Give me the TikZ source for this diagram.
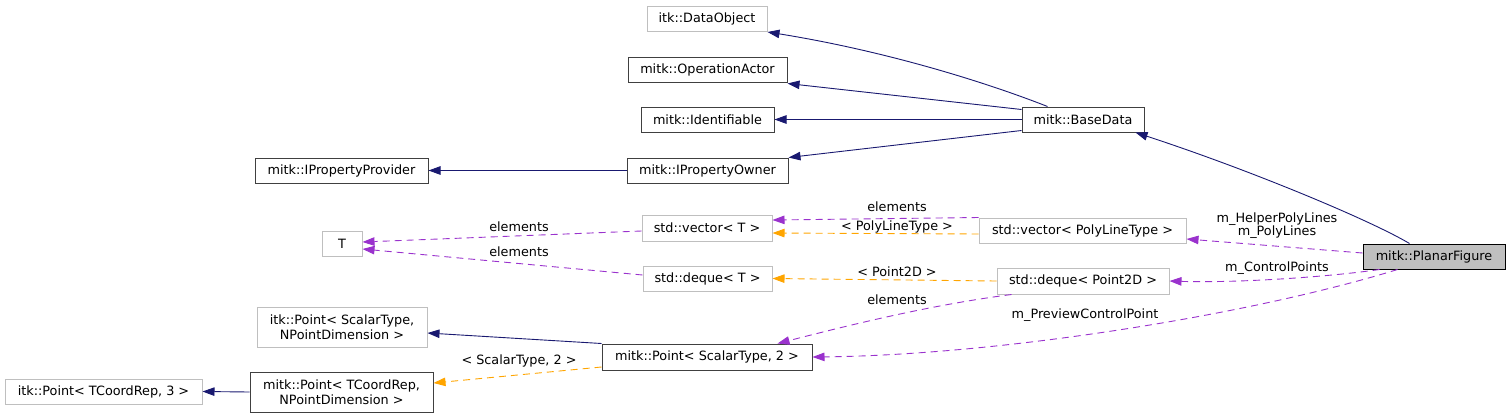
\documentclass[tikz,border=0pt]{standalone}
\usepackage{fontspec}
\setmainfont{DejaVu Sans}
\usetikzlibrary{arrows.meta}
\definecolor{inhblue}{HTML}{191970}
\definecolor{usepurple}{HTML}{9A32CD}
\definecolor{tmplorange}{HTML}{FFA500}
\definecolor{lgray}{HTML}{BFBFBF}
\definecolor{dgray}{HTML}{404040}
\tikzset{
  x=1pt, y=-1pt,
  box/.style={rectangle, inner sep=0pt, line width=1pt, align=center,
    font=\fontsize{12.8}{15}\selectfont, text=black},
  graybox/.style={box, draw=lgray},
  blackbox/.style={box, draw=dgray},
  curbox/.style={box, draw=black, fill=lgray},
  tip/.style={-{Triangle[length=12pt,width=8.5pt]}},
  inh/.style={tip, draw=inhblue, line width=0.9pt},
  usee/.style={tip, draw=usepurple, line width=0.9pt, dash pattern=on 7pt off 5pt},
  tmpl/.style={tip, draw=tmplorange, line width=0.9pt, dash pattern=on 7pt off 5pt},
  lbl/.style={inner sep=0pt, align=center, font=\fontsize{12.8}{13.5}\selectfont, text=black},
}
\begin{document}
\begin{tikzpicture}
\useasboundingbox (0,0) rectangle (1511,418);
% nodes
\node[graybox, minimum width=120pt, minimum height=25pt] (dobj) at (707,19) {itk::DataObject};
\node[blackbox, minimum width=159pt, minimum height=25pt] (opact) at (707.5,69.5) {mitk::OperationActor};
\node[blackbox, minimum width=133pt, minimum height=25pt] (ident) at (707.5,119.5) {mitk::Identifiable};
\node[blackbox, minimum width=161pt, minimum height=25pt] (iprowner) at (707.5,170.5) {mitk::IPropertyOwner};
\node[blackbox, minimum width=173pt, minimum height=25pt] (iprprov) at (341.5,170.5) {mitk::IPropertyProvider};
\node[blackbox, minimum width=122pt, minimum height=25pt] (bd) at (1083,119.5) {mitk::BaseData};
\node[curbox, minimum width=142pt, minimum height=25pt] (pf) at (1434,256.5) {mitk::PlanarFigure};
\node[graybox, minimum width=207pt, minimum height=25pt] (vecPL) at (1082.5,230.5) {std::vector< PolyLineType >};
\node[graybox, minimum width=130pt, minimum height=26pt] (vecT) at (707,228) {std::vector< T >};
\node[graybox, minimum width=40pt, minimum height=25pt] (T) at (342,243.5) {T};
\node[graybox, minimum width=129pt, minimum height=25pt] (deqT) at (707.5,278.5) {std::deque< T >};
\node[graybox, minimum width=172pt, minimum height=26pt] (deqP) at (1083,281) {std::deque< Point2D >};
\node[graybox, minimum width=170pt, minimum height=40pt] (itkPSN) at (342,327) {itk::Point< ScalarType,\\NPointDimension >};
\node[blackbox, minimum width=210pt, minimum height=26pt] (mpS2) at (707,357) {mitk::Point< ScalarType, 2 >};
\node[blackbox, minimum width=183pt, minimum height=40pt] (mpTC) at (341.5,392) {mitk::Point< TCoordRep,\\NPointDimension >};
\node[graybox, minimum width=197pt, minimum height=25pt] (itkPT3) at (103.5,391.5) {itk::Point< TCoordRep, 3 >};
% inheritance
\draw[inh] ([xshift=26pt]bd.north west) .. controls (980,80) and (880,50) .. (dobj.south east);
\draw[inh] ([yshift=-3pt]bd.north west) -- ([yshift=-1pt]opact.south east);
\draw[inh] (bd.west) -- (ident.east);
\draw[inh] ([yshift=2pt]bd.south west) -- (iprowner.north east);
\draw[inh] (iprowner.west) -- (iprprov.east);
\draw[inh] ([xshift=47pt]pf.north west) .. controls (1370,220) and (1250,170) .. ([xshift=-9pt]bd.south east);
\draw[inh] (mpS2.north west) -- ([yshift=-6pt]itkPSN.east);
\draw[inh] (mpTC.west) -- (itkPT3.east);
% usage
\draw[usee] (vecPL.north west) -- ([yshift=8pt]vecT.east);
\node[lbl] (l1) at (897,207) {elements};
\draw[usee] ([yshift=-3pt]vecT.west) -- ([yshift=1.5pt]T.east);
\node[lbl] (l2) at (519,227) {elements};
\draw[usee] ([yshift=3.5pt]deqT.west) -- ([yshift=-5.5pt]T.east);
\node[lbl] (l3) at (519,252) {elements};
\draw[usee] ([xshift=15pt]deqP.south west) .. controls (930,305) and (850,325) .. ([xshift=-35pt]mpS2.north east);
\node[lbl] (l4) at (897,300) {elements};
\draw[usee] ([yshift=3.5pt]pf.west) -- ([yshift=-8.5pt]vecPL.east);
\node[lbl] (l5) at (1277,225.5) {m\_HelperPolyLines\\m\_PolyLines};
\draw[usee] ([xshift=17pt]pf.south west) .. controls (1320,278) and (1230,283) .. (deqP.east);
\node[lbl] (l6) at (1277,268) {m\_ControlPoints};
\draw[usee] ([xshift=35pt]pf.south west) .. controls (1250,315) and (1000,355) .. (mpS2.east);
\node[lbl] (l7) at (1085,315.5) {m\_PreviewControlPoint};
% template
\draw[tmpl] ([yshift=-3.5pt]vecPL.west) -- ([yshift=-5pt]vecT.east);
\node[lbl] (l8) at (897,227) {< PolyLineType >};
\draw[tmpl] (deqP.west) -- (deqT.east);
\node[lbl] (l9) at (897,272) {< Point2D >};
\draw[tmpl] ([yshift=-10pt]mpS2.west) -- ([yshift=9pt]mpTC.east);
\node[lbl] (l10) at (519,361) {< ScalarType, 2 >};
\end{tikzpicture}
\end{document}
